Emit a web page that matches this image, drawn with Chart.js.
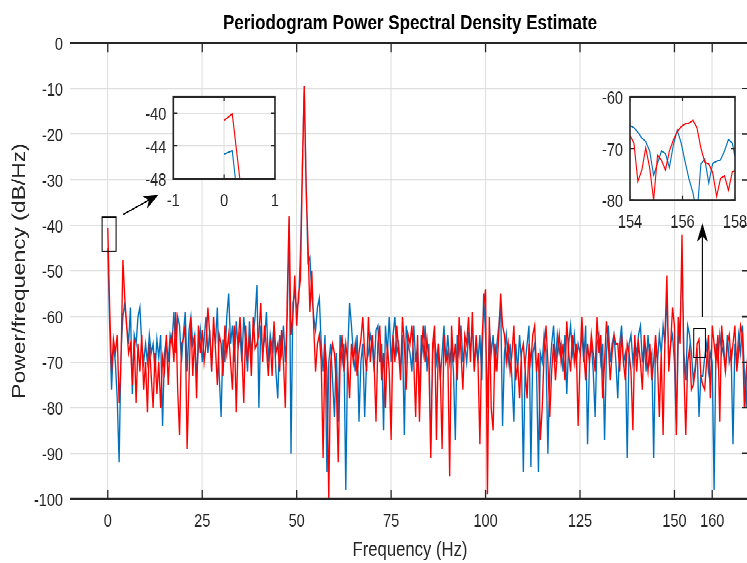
<!DOCTYPE html>
<html>
<head>
<meta charset="utf-8">
<script src="https://cdn.jsdelivr.net/npm/chart.js@4.4.1/dist/chart.umd.min.js"></script>
<style>
html,body{margin:0;padding:0;background:#fff;overflow:hidden;width:747px;height:563px;}
#outer{position:relative;width:747px;height:563px;overflow:hidden;background:#fff;}
/* the reference figure is vertically stretched: draw at 450px height and stretch to 563px */
#stage{position:absolute;left:0;top:0;width:760px;height:450px;transform:scaleY(1.25111);transform-origin:0 0;}
canvas{position:absolute;}
#main{left:0;top:0;}
#in1{left:130px;top:63px;}
#in2{left:590px;top:63px;}
</style>
</head>
<body>
<div id="outer"><div id="stage">
<canvas id="main" width="752" height="450"></canvas>
<canvas id="in1" width="160" height="112"></canvas>
<canvas id="in2" width="170" height="128"></canvas>
</div></div>
<script>
// ---------------- data ----------------
const FREQ_STEP_HZ = 0.5;   // frequency bin spacing of the main-plot arrays (0 .. 169.5 Hz)

const psdBlue = [
 -45,-62,-76,-66,-70,-78,-92,-68,-60,-57,
 -62,-66,-58,-77,-64,-66,-60,-58,-66,-70,
 -66,-70,-64,-68,-66,-72,-65,-69,-64,-84,
 -68,-65,-70,-64,-66,-59,-68,-60,-62,-70,
 -64,-59,-72,-63,-60,-66,-64,-73,-67,-63,
 -70,-65,-60,-68,-63,-72,-62,-66,-58,-73,
 -82,-65,-70,-60,-55,-66,-62,-70,-61,-67,
 -64,-70,-60,-66,-72,-61,-68,-64,-60,-53,
 -80,-62,-68,-65,-59,-70,-64,-67,-62,-72,
 -78,-64,-68,-62,-70,-60,-38.5,-90,-57,-55,
 -58,-57,-46,-28,-9.5,-30,-48,-47,-55,-60,
 -63,-58,-56,-66,-72,-64,-94,-70,-66,-74,
 -82,-68,-83,-64,-70,-66,-98,-68,-57,-62,
 -68,-72,-64,-83,-70,-66,-82,-70,-68,-64,
 -66,-72,-63,-62,-70,-66,-85,-62,-68,-60,
 -70,-64,-60,-68,-66,-72,-64,-86,-62,-66,
 -68,-72,-62,-70,-66,-78,-64,-68,-62,-72,
 -66,-90,-68,-64,-70,-66,-74,-68,-62,-70,
 -64,-70,-66,-72,-87,-64,-68,-62,-70,-66,
 -70,-64,-68,-62,-72,-66,-70,-64,-74,-55,
 -64,-80,-62,-68,-64,-72,-66,-62,-57,-84,
 -68,-64,-70,-66,-74,-83,-66,-72,-64,-70,
 -94,-70,-66,-62,-93,-68,-66,-72,-94,-68,
 -70,-64,-68,-90,-72,-66,-62,-70,-64,-68,
 -66,-72,-64,-77,-66,-62,-68,-64,-70,-66,
 -68,-64,-70,-62,-88,-70,-66,-72,-82,-66,
 -64,-70,-66,-87,-68,-62,-70,-66,-64,-70,
 -78,-66,-62,-70,-68,-91,-66,-64,-70,-66,
 -68,-64,-62,-70,-66,-72,-64,-70,-68,-91,
 -66,-70,-64,-68,-62,-66,-55,-70,-66,-64,
 -70,-85,-66,-62,-47,-68,-74,-62,-64,-68,
 -74,-71,-67,-82,-73,-73,-69,-66,-72,-68,
 -70,-98,-66,-70,-64,-68,-66,-72,-64,-70,
 -68,-88,-66,-70,-64,-68,-62,-72,-80,-66
];

const psdRed = [
 -40.5,-58,-72,-65,-68,-64,-79,-70,-47.5,-56,
 -62,-68,-66,-75,-65,-79,-66,-72,-64,-76,
 -70,-81,-66,-73,-80,-68,-77,-70,-80,-69,
 -72,-64,-75,-66,-64,-70,-59,-76,-86,-66,
 -65,-62,-89,-74,-60,-73,-64,-78,-62,-68,
 -63,-70,-66,-58,-64,-72,-60,-67,-75,-64,
 -66,-73,-62,-68,-64,-70,-76,-62,-81,-66,
 -60,-68,-79,-62,-70,-64,-73,-60,-67,-66,
 -64,-57,-70,-62,-67,-73,-65,-73,-61,-68,
 -66,-72,-63,-70,-80,-56,-38,-64,-60,-51,
 -62,-55,-52,-28,-9.5,-32,-44,-59,-50,-62,
 -72,-66,-64,-70,-91,-66,-72,-100,-70,-66,
 -68,-75,-92,-70,-64,-72,-66,-70,-78,-66,
 -70,-66,-73,-68,-65,-60,-68,-72,-60,-70,
 -64,-70,-83,-66,-62,-74,-68,-80,-66,-72,
 -87,-64,-70,-62,-68,-74,-60,-66,-76,-64,
 -66,-62,-70,-82,-64,-83,-68,-62,-70,-65,
 -70,-91,-66,-62,-87,-66,-72,-89,-64,-70,
 -68,-95,-62,-70,-66,-74,-60,-68,-76,-64,
 -66,-60,-70,-59,-72,-64,-70,-88,-66,-58,
 -54,-99,-60,-80,-85,-66,-72,-64,-55,-62,
 -64,-70,-66,-72,-68,-62,-74,-70,-78,-68,
 -66,-72,-78,-66,-70,-64,-62,-72,-68,-87,
 -80,-68,-62,-70,-82,-72,-66,-74,-68,-64,
 -70,-66,-74,-61,-68,-72,-64,-70,-66,-84,
 -70,-60,-68,-74,-66,-70,-64,-68,-72,-60,
 -68,-64,-78,-70,-61,-66,-74,-68,-64,-66,
 -66,-72,-64,-70,-74,-66,-68,-72,-85,-64,
 -72,-66,-70,-76,-64,-68,-72,-66,-74,-70,
 -64,-70,-82,-68,-86,-64,-51,-72,-66,-58,
 -62,-86,-60,-66,-42,-72,-86,-70,-67,-76,
 -75,-72,-66,-65,-73,-75,-76,-70,-64,-78,
 -62,-66,-70,-64,-83,-62,-68,-72,-66,-64,
 -70,-66,-62,-72,-68,-62,-64,-80,-72,-68
];

const freqHz = psdBlue.map((_, i) => i * FREQ_STEP_HZ);

const xTickValues = [0, 25, 50, 75, 100, 125, 150, 160];

// inset near 0 Hz
const lowZoomFreq = [0, 0.16, 0.32];
const lowZoomBlue = [-45.0, -44.6, -53.5];
const lowZoomRed  = [-40.9, -40.1, -48.6];
const lowZoomXTicks = [-1, 0, 1];
const lowZoomYTicks = [-48, -44, -40];

// inset 154-158 Hz
const highZoomFreq = [154.00,154.15,154.30,154.45,154.60,154.75,154.90,155.05,155.20,155.35,
                      155.50,155.65,155.80,155.95,156.10,156.25,156.40,156.55,156.70,156.85,
                      157.00,157.15,157.30,157.45,157.60,157.75,157.90,158.05];
const highZoomRed  = [-67.5,-69,-76.4,-74.2,-69.9,-73.8,-80,-71.3,-72.3,-74.2,
                      -70.5,-68.4,-66.8,-65.8,-65.3,-65.1,-64.6,-66,-69.9,-72.7,
                      -73,-74.7,-79.3,-75.8,-75.3,-78.1,-74.5,-74.3];
const highZoomBlue = [-65.6,-66,-66.9,-68,-68.7,-70.5,-75.2,-72.8,-70.5,-71,
                      -73.7,-69.4,-66.5,-69,-72.6,-76,-78.6,-83,-73,-72.1,
                      -76.7,-72.9,-72.5,-72.2,-70.5,-68.3,-69,-73];
const highZoomXTicks = [154, 156, 158];
const highZoomYTicks = [-80, -70, -60];

// zoom markers on the main plot (data coordinates)
const zoomBoxes = [
  {x0: -1.5, x1: 2.2, y0: -45.7, y1: -38.2},
  {x0: 155.1, x1: 158.2, y0: -69.0, y1: -62.6}
];
const zoomArrows = [
  {fromX: 4.1, fromY: -37.6, toX: 13.4, toY: -33.3},
  {fromX: 157.4, fromY: -60.1, toX: 157.4, toY: -39.5}
];

// ---------------- styling ----------------
const FONT = '"Liberation Sans",Arial,Helvetica,sans-serif';
const AXIS_COLOR = '#262626';
const GRID_COLOR = '#dfdfdf';
const BLUE = '#0072BD';
const RED = '#FF0000';
const DPR = 2;

function toPoints(xs, ys) { return xs.map((x, i) => ({x: x, y: ys[i]})); }

function drawArrow(ctx, x0, y0, x1, y1) {
  const dx = x1 - x0, dy = y1 - y0, len = Math.hypot(dx, dy);
  const ux = dx / len, uy = dy / len, px = -uy, py = ux;
  const L = 15, W = 5.5;
  ctx.beginPath();
  ctx.moveTo(x0, y0);
  ctx.lineTo(x1 - ux * L * 0.7, y1 - uy * L * 0.7);
  ctx.stroke();
  ctx.beginPath();
  ctx.moveTo(x1, y1);
  ctx.lineTo(x1 - ux * L + px * W, y1 - uy * L + py * W);
  ctx.lineTo(x1 - ux * L * 0.7, y1 - uy * L * 0.7);
  ctx.lineTo(x1 - ux * L - px * W, y1 - uy * L - py * W);
  ctx.closePath();
  ctx.fill();
}

const mainFrame = {
  id: 'mainFrame',
  afterDatasetsDraw(chart) {
    const {ctx, chartArea: a, scales: {x, y}} = chart;
    ctx.save();
    ctx.strokeStyle = AXIS_COLOR;
    ctx.lineWidth = 1.8;
    ctx.beginPath();
    ctx.moveTo(a.left, a.top); ctx.lineTo(a.right, a.top);
    ctx.moveTo(a.left, a.bottom); ctx.lineTo(a.right, a.bottom);
    ctx.moveTo(a.right, a.top); ctx.lineTo(a.right, a.bottom);
    ctx.stroke();
    ctx.lineWidth = 1.3;
    ctx.beginPath();
    xTickValues.forEach(v => {
      const px = x.getPixelForValue(v);
      ctx.moveTo(px, a.bottom); ctx.lineTo(px, a.bottom - 7.2);
      ctx.moveTo(px, a.top); ctx.lineTo(px, a.top + 7.2);
    });
    y.ticks.forEach(t => {
      const py = y.getPixelForValue(t.value);
      ctx.moveTo(a.right, py); ctx.lineTo(a.right - 8, py);
    });
    ctx.stroke();
    ctx.lineWidth = 1;
    ctx.strokeStyle = '#000';
    zoomBoxes.forEach(b => {
      const l = x.getPixelForValue(b.x0), r = x.getPixelForValue(b.x1);
      const t = y.getPixelForValue(b.y1), bt = y.getPixelForValue(b.y0);
      ctx.strokeRect(l, t, r - l, bt - t);
    });
    ctx.fillStyle = '#000';
    ctx.lineWidth = 1.1;
    zoomArrows.forEach(ar => {
      drawArrow(ctx, x.getPixelForValue(ar.fromX), y.getPixelForValue(ar.fromY),
                     x.getPixelForValue(ar.toX), y.getPixelForValue(ar.toY));
    });
    ctx.restore();
  }
};

new Chart(document.getElementById('main'), {
  type: 'line',
  data: {
    datasets: [
      {label: 'Signal 1', data: toPoints(freqHz, psdBlue), borderColor: BLUE, borderWidth: 1.35, pointRadius: 0, tension: 0, order: 2},
      {label: 'Signal 2', data: toPoints(freqHz, psdRed), borderColor: RED, borderWidth: 1.35, pointRadius: 0, tension: 0, order: 1}
    ]
  },
  options: {
    responsive: false,
    devicePixelRatio: DPR,
    animation: false,
    layout: {padding: {left: 0, right: 2, top: 0, bottom: 0}},
    plugins: {
      legend: {display: false},
      tooltip: {enabled: false},
      title: {
        display: true,
        text: 'Periodogram Power Spectral Density Estimate',
        color: '#000',
        font: {family: FONT, size: 17, weight: 'bold'},
        padding: {top: 8.6, bottom: 5.4},
        fullSize: false
      }
    },
    scales: {
      x: {
        type: 'linear',
        min: -10,
        max: 170,
        afterBuildTicks: s => { s.ticks = xTickValues.map(v => ({value: v})); },
        afterFit: s => { s.height = 51.2; },
        ticks: {autoSkip: false, maxRotation: 0, padding: 9.5, color: AXIS_COLOR, font: {family: FONT, size: 14.5}},
        grid: {color: GRID_COLOR, lineWidth: 1.1, drawTicks: false},
        border: {display: false},
        title: {display: true, text: 'Frequency (Hz)', color: AXIS_COLOR, font: {family: FONT, size: 16.7}, padding: {top: 0, bottom: 0}}
      },
      y: {
        type: 'linear',
        min: -100,
        max: 0,
        afterFit: s => { s.width = 70; },
        ticks: {stepSize: 10, padding: 7, labelOffset: 1.6, color: AXIS_COLOR, font: {family: FONT, size: 14.5}},
        grid: {color: GRID_COLOR, lineWidth: 1.1, drawTicks: false},
        border: {display: false},
        title: {display: true, text: 'Power/frequency (dB/Hz)', color: AXIS_COLOR, font: {family: FONT, size: 18.3}, padding: {top: 8.8, bottom: 0}}
      }
    }
  },
  plugins: [mainFrame]
});

function insetFrame(opaque) {
  return {
    id: 'insetFrame',
    beforeDraw(chart) {
      if (!opaque) return;
      const {ctx, chartArea: a} = chart;
      ctx.save();
      ctx.fillStyle = '#fff';
      ctx.fillRect(a.left, a.top, a.right - a.left, a.bottom - a.top);
      ctx.restore();
    },
    afterDatasetsDraw(chart) {
      const {ctx, chartArea: a, scales: {x, y}} = chart;
      ctx.save();
      ctx.strokeStyle = AXIS_COLOR;
      ctx.lineWidth = 1.6;
      ctx.strokeRect(a.left, a.top, a.right - a.left, a.bottom - a.top);
      ctx.lineWidth = 1.2;
      ctx.beginPath();
      x.ticks.forEach(t => {
        const px = x.getPixelForValue(t.value);
        ctx.moveTo(px, a.bottom); ctx.lineTo(px, a.bottom - 3.5);
        ctx.moveTo(px, a.top); ctx.lineTo(px, a.top + 3.5);
      });
      y.ticks.forEach(t => {
        const py = y.getPixelForValue(t.value);
        ctx.moveTo(a.left, py); ctx.lineTo(a.left + 4, py);
        ctx.moveTo(a.right, py); ctx.lineTo(a.right - 4, py);
      });
      ctx.stroke();
      ctx.restore();
    }
  };
}

function makeInset(id, freq, blue, red, xr, yr, xt, yt, opaque, yGrid, pad, yW, xH) {
  new Chart(document.getElementById(id), {
    type: 'line',
    data: {
      datasets: [
        {data: toPoints(freq, blue), borderColor: BLUE, borderWidth: 1.1, pointRadius: 0, tension: 0, order: 2},
        {data: toPoints(freq, red), borderColor: RED, borderWidth: 1.1, pointRadius: 0, tension: 0, order: 1}
      ]
    },
    options: {
      responsive: false,
      devicePixelRatio: DPR,
      animation: false,
      layout: {padding: pad},
      plugins: {legend: {display: false}, tooltip: {enabled: false}, title: {display: false}},
      scales: {
        x: {
          type: 'linear', min: xr[0], max: xr[1],
          afterBuildTicks: s => { s.ticks = xt.map(v => ({value: v})); },
          afterFit: s => { s.height = xH; },
          ticks: {autoSkip: false, maxRotation: 0, padding: 11, color: AXIS_COLOR, font: {family: FONT, size: 14.5, lineHeight: 1}},
          grid: {color: GRID_COLOR, lineWidth: 1.1, drawTicks: false},
          border: {display: false}
        },
        y: {
          type: 'linear', min: yr[0], max: yr[1],
          afterBuildTicks: s => { s.ticks = yt.map(v => ({value: v})); },
          afterFit: s => { s.width = yW; },
          ticks: {autoSkip: false, padding: 7, labelOffset: 1.8, color: AXIS_COLOR, font: {family: FONT, size: 14.5, lineHeight: 1}},
          grid: {display: yGrid, color: GRID_COLOR, lineWidth: 1.1, drawTicks: false},
          border: {display: false}
        }
      }
    },
    plugins: [insetFrame(opaque)]
  });
}

makeInset('in1', lowZoomFreq, lowZoomBlue, lowZoomRed, [-1, 1], [-48, -38], lowZoomXTicks, lowZoomYTicks,
          true, true, {left: 0, top: 8.7, right: 10, bottom: 0}, 43.3, 32.2);
makeInset('in2', highZoomFreq, highZoomBlue, highZoomRed, [154, 158], [-80, -60], highZoomXTicks, highZoomYTicks,
          false, false, {left: 0, top: 8.1, right: 25, bottom: 0}, 40, 31.1);
</script>
</body>
</html>
